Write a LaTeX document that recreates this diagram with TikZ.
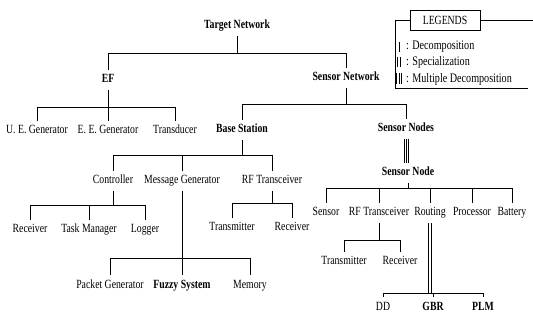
\documentclass[tikz,border=0pt]{standalone}
\usepackage{fontspec}
\setmainfont{Liberation Serif}[FakeStretch=0.78]
\newcommand\branch[5]{% parent, bar y, first child, last child, all children
  \draw[link] (#1.south) -- (#1.south |- 0,#2);
  \draw[link] (#3.north |- 0,#2) -- (#4.north |- 0,#2);
  \foreach \c in {#5} {\draw[link] (\c.north |- 0,#2) -- (\c.north);}
}
\begin{document}
\begin{tikzpicture}[x=1pt,y=-1pt,
  lbl/.style={inner xsep=1pt, inner ysep=5pt, text height=8pt, text depth=2pt,
    font=\fontsize{12.5}{13}\selectfont},
  blbl/.style={lbl, font=\fontsize{12.5}{13}\selectfont\bfseries},
  link/.style={line width=0.8pt, black},
  legtext/.style={anchor=west, inner sep=0pt, font=\fontsize{13}{14}\selectfont}]
\useasboundingbox (0,0) rectangle (533,323);

% top levels
\node[blbl] (tn)  at (237,26) {Target Network};
\node[blbl] (ef)  at (108,80) {EF};
\node[blbl] (snw) at (346,78) {Sensor Network};

% EF parts
\node[lbl] (ueg) at (37,131)  {U. E. Generator};
\node[lbl] (eeg) at (108,131) {E. E. Generator};
\node[lbl] (trd) at (175,131) {Transducer};

% sensor network parts
\node[blbl] (bs)  at (242,130) {Base Station};
\node[blbl] (sns) at (406,129) {Sensor Nodes};
\node[blbl] (sn)  at (408,173) {Sensor Node};

% base station parts
\node[lbl] (ctl) at (113,181) {Controller};
\node[lbl] (mg)  at (182,181) {Message Generator};
\node[lbl] (rfb) at (272,181) {RF Transceiver};

\node[lbl] (rcv) at (30,230)  {Receiver};
\node[lbl] (tm)  at (89,230)  {Task Manager};
\node[lbl] (lg)  at (145,230) {Logger};

\node[lbl] (txb) at (232,228) {Transmitter};
\node[lbl] (rxb) at (292,228) {Receiver};

\node[lbl]  (pg)  at (110,285) {Packet Generator};
\node[blbl] (fs)  at (182,285) {Fuzzy System};
\node[lbl]  (mem) at (250,285) {Memory};

% sensor node parts
\node[lbl] (sen)  at (326,213) {Sensor};
\node[lbl] (rfs)  at (379,213) {RF Transceiver};
\node[lbl] (rt)   at (430,213) {Routing};
\node[lbl] (proc) at (472,213) {Processor};
\node[lbl] (bat)  at (512,213) {Battery};

\node[lbl] (txs) at (344,262) {Transmitter};
\node[lbl] (rxs) at (400,262) {Receiver};

\node[lbl]  (dd)  at (383,307) {DD};
\node[blbl] (gbr) at (433,307) {GBR};
\node[blbl] (plm) at (483,307) {PLM};

% decompositions
\branch{tn}{53}{ef}{snw}{ef,snw}
\branch{ef}{107}{ueg}{trd}{ueg,eeg,trd}
\branch{snw}{104}{bs}{sns}{bs,sns}
\branch{bs}{155}{ctl}{rfb}{ctl,mg,rfb}
\branch{ctl}{205}{rcv}{lg}{rcv,tm,lg}
\branch{rfb}{203}{txb}{rxb}{txb,rxb}
\branch{mg}{258}{pg}{mem}{pg,mem,fs}
\branch{sn}{188}{sen}{bat}{sen,rfs,rt,proc,bat}
\branch{rfs}{240}{txs}{rxs}{txs,rxs}

% multiple decomposition: Sensor Nodes -> Sensor Node
\foreach \d in {-1.8,0,1.8}
  \draw[link, line width=0.6pt] ([xshift=\d pt]sns.south) -- ([xshift=\d pt]sns.south |- sn.north);

% specialization: Routing -> DD, GBR, PLM
\coordinate (rtbar) at (rt.south |- 0,293);
\foreach \d in {-1.3,1.3}
  \draw[link, line width=0.6pt] ([xshift=\d pt]rt.south) -- ([xshift=\d pt]rtbar);
\draw[link] (dd.north |- rtbar) -- (plm.north |- rtbar);
\foreach \c in {dd,gbr,plm} {\draw[link] (\c.north |- rtbar) -- (\c.north);}

% legend
\node[draw, line width=0.8pt, minimum width=70pt, minimum height=20pt, inner sep=0pt,
  font=\fontsize{12.5}{13}\selectfont] (leg) at (445,20) {LEGENDS};
\coordinate (legbl) at (395,88);
\coordinate (legbr) at (528,88);
\coordinate (legtr) at (533,16);
\draw[link] (leg.west) -- (legbl |- leg.west) -- (legbl) -- (legbr);
\draw[link] (leg.east) -- (leg.east -| legtr);

\draw[link] (399,42) -- (399,52);
\foreach \d in {-1.3,1.3} \draw[link, line width=0.6pt] (399+\d,57) -- (399+\d,67);
\foreach \d in {-2.5,0,2.5} \draw[link, line width=0.6pt] (399+\d,73) -- (399+\d,84);
\node[legtext] (l1) at (406,47) {: Decomposition};
\node[legtext] (l2) at (406,62) {: Specialization};
\node[legtext] (l3) at (406,79) {: Multiple Decomposition};
\end{tikzpicture}
\end{document}
